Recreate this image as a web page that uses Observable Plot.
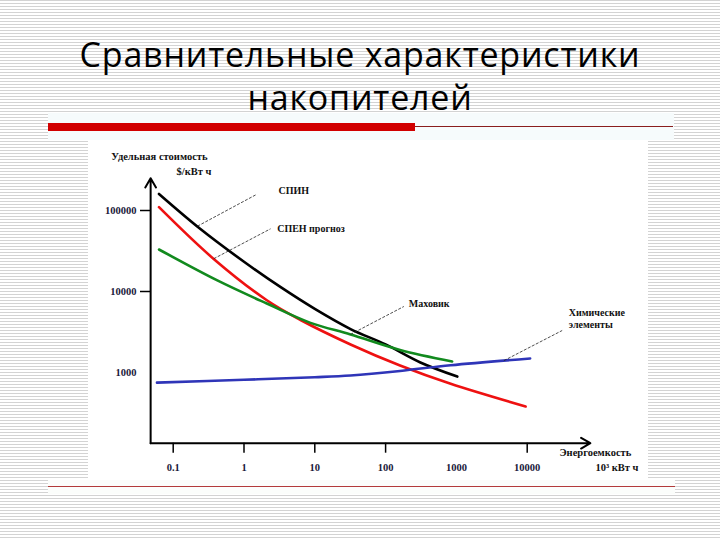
<!DOCTYPE html>
<html><head><meta charset="utf-8">
<script src="https://cdn.jsdelivr.net/npm/d3@7"></script>
<script src="https://cdn.jsdelivr.net/npm/@observablehq/plot@0.6"></script>
<style>
html,body{margin:0;padding:0;}
body{width:720px;height:540px;position:relative;overflow:hidden;
 background:repeating-linear-gradient(to bottom,#d3d3d3 0px,#d3d3d3 1px,#ffffff 1px,#ffffff 3px);}
#title{position:absolute;left:0;top:33px;width:720px;text-align:center;font-family:"Open Sans";font-size:34px;letter-spacing:0.8px;line-height:43px;color:#000;}
#band{position:absolute;left:48px;top:113px;width:626px;height:27px;background:#f6fbfc;}
#redbar{position:absolute;left:48px;top:123px;width:367px;height:8px;background:#d10000;}
#thin{position:absolute;left:415px;top:126px;width:258px;height:1px;background:#8a1e1e;}
#panel{position:absolute;left:88px;top:140px;width:560px;height:340px;background:#fff;}
#bottomband{position:absolute;left:48px;top:480px;width:627px;height:14px;background:#fbfdfb;}
#bottomline{position:absolute;left:48px;top:486px;width:627px;height:1px;background:#b23a3a;}
</style></head>
<body>
<div id="title">Сравнительные характеристики<br>накопителей</div>
<div id="band"></div><div id="redbar"></div><div id="thin"></div>
<div id="bottomband"></div><div id="bottomline"></div>
<div id="panel"></div>
<script>
// Series (x: energy capacity, 10^3 kWh; y: specific cost, $/kWh)
const seriesNames = ["СПИН", "СПЕН прогноз", "Маховик", "Химические элементы"];
const seriesColors = ["#000000", "#ee1111", "#128a1e", "#2f35b8"];
const spinX = [0.063, 0.24, 1, 3.3, 10, 32, 100, 310, 1030];
const spinY = [160000, 59500, 23300, 11300, 6100, 3440, 2220, 1330, 890];
const spenX = [0.063, 0.37, 2.1, 6.3, 32, 160, 830, 9500];
const spenY = [110000, 25400, 7800, 4450, 2220, 1220, 725, 380];
const flyX = [0.063, 0.42, 2.1, 8.7, 32, 160, 870];
const flyY = [33000, 13700, 7100, 4100, 2950, 1900, 1370];
const chemX = [0.059, 1, 10, 32, 160, 830, 11000];
const chemY = [750, 813, 875, 920, 1045, 1230, 1490];

const xTickLabels = [0.1, 1, 10, 100, 1000, 10000];
const xTickMarks = [0.1, 1, 10, 100, 10000];
const yTickLabels = [1000, 10000, 100000];
const yTickMarks = [10000, 100000];
const xAxisExtent = [0.048, 78000];
const yAxisExtent = [134, 250000];

// Leader lines: from curve point to label point, in data units
const leaderNames = ["СПИН", "СПЕН прогноз", "Маховик", "Химические\nэлементы"];
const leaderFromX = [0.22, 0.374, 31.9, 4680];
const leaderFromY = [64000, 25400, 2950, 1400];
const leaderToX = [1.5, 2.37, 181, 31200];
const leaderToY = [157700, 59400, 6530, 3300];
const labelX = [3.07, 2.94, 213, 38700];
const labelY = [180000, 61100, 7110, 4670];

const allX = [spinX, spenX, flyX, chemX];
const allY = [spinY, spenY, flyY, chemY];
const rows = [];
seriesNames.forEach((name, i) => allX[i].forEach((x, j) => rows.push({series: name, x, y: allY[i][j]})));
const leaders = leaderNames.map((t, i) => ({t, x1: leaderFromX[i], y1: leaderFromY[i], x2: leaderToX[i], y2: leaderToY[i], lx: labelX[i], ly: labelY[i]}));

const serif = "Liberation Serif";
const chart = Plot.plot({
  width: 560, height: 340,
  marginLeft: 62, marginRight: 58, marginTop: 38, marginBottom: 37.3,
  style: {background: "transparent", fontFamily: serif, color: "#111"},
  x: {type: "log", domain: [0.1, 10000], range: [84.7, 438.7]},
  y: {type: "log", domain: [1000, 100000], range: [232, 70]},
  color: {domain: seriesNames, range: seriesColors},
  marks: [
    Plot.axisX({ticks: xTickMarks, tickSize: 10, tickFormat: () => "", strokeWidth: 1.5, stroke: "#000"}),
    Plot.axisX({ticks: xTickLabels, tickSize: 0, tickPadding: 20, tickFormat: d => String(d), fontSize: 10.5, fontWeight: "bold", fill: "#1a1a3a", label: null}),
    Plot.axisY({ticks: yTickMarks, tickSize: 10, tickFormat: () => "", strokeWidth: 1.5, stroke: "#000"}),
    Plot.axisY({ticks: yTickLabels, tickSize: 0, tickPadding: 14, tickFormat: d => String(d), fontSize: 10.5, fontWeight: "bold", fill: "#1a1a3a", label: null}),
    Plot.arrow([{}], {x1: () => xAxisExtent[0], y1: () => yAxisExtent[0], x2: () => xAxisExtent[0], y2: () => yAxisExtent[1], stroke: "#000", strokeWidth: 2, headLength: 8}),
    Plot.arrow([{}], {x1: () => xAxisExtent[0], y1: () => yAxisExtent[0], x2: () => xAxisExtent[1], y2: () => yAxisExtent[0], stroke: "#000", strokeWidth: 2, headLength: 8}),
    Plot.line(rows, {x: "x", y: "y", z: "series", stroke: "series", strokeWidth: 2.6, curve: "catmull-rom"}),
    Plot.link(leaders, {x1: "x1", y1: "y1", x2: "x2", y2: "y2", stroke: "#222", strokeWidth: 0.8, strokeDasharray: "3,1.5"}),
    Plot.text(leaders, {x: "lx", y: "ly", text: "t", textAnchor: "start", fontSize: 10, fontWeight: "bold", fill: "#111", lineHeight: 1.15}),
    Plot.text(["Удельная стоимость"], {frameAnchor: "top-left", dx: -39.3, dy: -26.3, textAnchor: "start", fontSize: 10.5, fontWeight: "bold", fill: "#111"}),
    Plot.text(["$/кВт ч"], {frameAnchor: "top-left", dx: 26, dy: -11.3, textAnchor: "start", fontSize: 10.5, fontWeight: "bold", fill: "#111"}),
    Plot.text(["Энергоемкость"], {frameAnchor: "bottom-right", dx: -31, dy: 12.3, textAnchor: "start", fontSize: 10.5, fontWeight: "bold", fill: "#111"}),
    Plot.text(["10³ кВт ч"], {frameAnchor: "bottom-right", dx: 48, dy: 27.3, textAnchor: "end", fontSize: 10.5, fontWeight: "bold", fill: "#111"})
  ]
});
document.getElementById("panel").appendChild(chart);
</script>
</body></html>
